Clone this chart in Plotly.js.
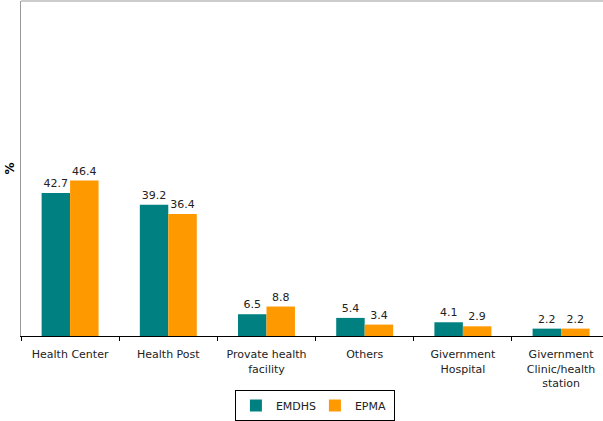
<!DOCTYPE html>
<html>
<head>
<meta charset="utf-8">
<script src="https://cdn.plot.ly/plotly-3.0.1.min.js"></script>
<style>
  html, body { margin: 0; padding: 0; background: #fff; }
  #chart { width: 603px; height: 421px; }
</style>
</head>
<body>
<div id="chart"></div>
<script>
// Place of delivery by source, percent
const categories = [
  "Health Center",
  "Health Post",
  "Provate health<br>facility",
  "Others",
  "Givernment<br>Hospital",
  "Givernment<br>Clinic/health<br>station"
];
const emdhs = [42.7, 39.2, 6.5, 5.4, 4.1, 2.2];
const epma = [46.4, 36.4, 8.8, 3.4, 2.9, 2.2];
const seriesNames = ["EMDHS", "EPMA"];

const labelFont = { family: "DejaVu Sans, Verdana, sans-serif", size: 11, color: "#222" };

function barTrace(name, values, color) {
  return {
    type: "bar",
    name: name,
    x: categories,
    y: values,
    marker: { color: color, line: { width: 0 } },
    text: values.map(v => v.toFixed(1)),
    textposition: "outside",
    textfont: labelFont,
    cliponaxis: false,
    hoverinfo: "skip"
  };
}

const data = [
  barTrace(seriesNames[0], emdhs, "#008080"),
  barTrace(seriesNames[1], epma, "#FF9900")
];

const layout = {
  width: 603,
  height: 421,
  margin: { l: 21, r: 0, t: 1, b: 84, pad: 0 },
  paper_bgcolor: "#fff",
  plot_bgcolor: "#fff",
  font: labelFont,
  barmode: "group",
  bargap: 0.42,
  bargroupgap: 0,
  showlegend: true,
  legend: {
    orientation: "h",
    x: 0.505,
    xanchor: "center",
    y: -0.209,
    yanchor: "middle",
    bordercolor: "#000",
    borderwidth: 1,
    bgcolor: "#fff",
    font: labelFont,
    itemwidth: 30,
    entrywidth: 34,
    entrywidthmode: "pixels",
    traceorder: "normal"
  },
  xaxis: {
    type: "category",
    range: [-0.5, 5.427],
    showline: true,
    linecolor: "#000",
    linewidth: 1,
    ticks: "outside",
    tickson: "boundaries",
    ticklen: 4,
    tickcolor: "#000",
    tickfont: labelFont,
    ticklabelstandoff: 8,
    showgrid: false,
    zeroline: false,
    automargin: false,
    fixedrange: true
  },
  yaxis: {
    range: [0, 100],
    showline: true,
    linecolor: "#999",
    linewidth: 1,
    showticklabels: false,
    ticks: "",
    showgrid: false,
    zeroline: false,
    automargin: false,
    title: { text: "<b>%</b>", font: { family: "DejaVu Sans, Verdana, sans-serif", size: 12, color: "#000" }, standoff: 2 },
    fixedrange: true
  },
  shapes: [
    { type: "line", xref: "paper", yref: "paper", x0: 0, x1: 1, y0: 1, y1: 1,
      line: { color: "#999", width: 1 } }
  ]
};

Plotly.newPlot("chart", data, layout, { displayModeBar: false, staticPlot: true });
</script>
</body>
</html>
